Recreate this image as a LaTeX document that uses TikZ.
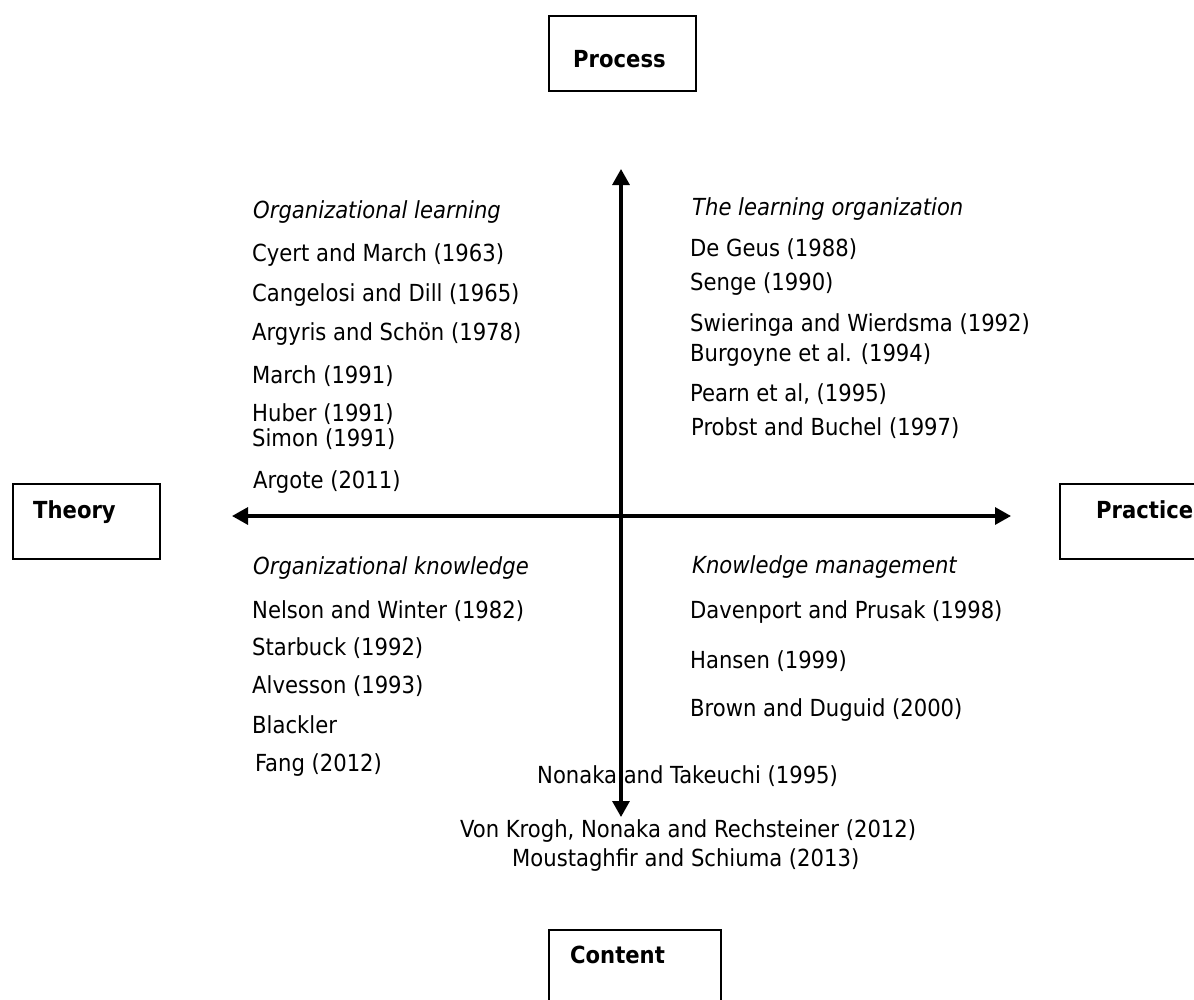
\documentclass[tikz,border=0pt]{standalone}
\usepackage{fontspec}
\setmainfont{DejaVu Sans Condensed}
\usetikzlibrary{arrows.meta,calc}
\definecolor{LineClr}{RGB}{0,0,0}
\definecolor{TextClr}{RGB}{0,0,0}

\tikzset{
  box/.style={draw=LineClr,line width=1.8pt,inner sep=0pt,anchor=north west},
  head/.style={font=\bfseries,text=TextClr,anchor=base west,inner sep=0pt},
  topic/.style={font=\itshape,text=TextClr,anchor=base west,inner sep=0pt},
  cite/.style={text=TextClr,anchor=base west,inner sep=0pt},
  axis/.style={draw=LineClr,line width=3.2pt,
    {Triangle[length=16pt,width=17pt]}-{Triangle[length=16pt,width=17pt]}}
}

\begin{document}
\begin{tikzpicture}[x=1pt,y=-1pt]
\fontsize{23.5pt}{28pt}\selectfont
\useasboundingbox (0,0) rectangle (1194,999);


\node[box,minimum width=147pt,minimum height=75pt] (procBox) at (548,15) {};
\node[box,minimum width=147pt,minimum height=75pt] (theoBox) at (12,483) {};
\node[box,minimum width=160pt,minimum height=75pt] (pracBox) at (1059,483) {};
\node[box,minimum width=172pt,minimum height=90pt] (contBox) at (548,929) {};

\node[head] (procLbl) at (573,67) {Process};
\node[head] (theoLbl) at (33,518) {Theory};
\node[head] (pracLbl) at (1096,518) {Practice};
\node[head] (contLbl) at (570,963) {Content};


\coordinate (theoEnd) at (232,516);
\coordinate (pracEnd) at (1011,516);
\coordinate (procEnd) at (621,169);
\coordinate (contEnd) at (621,817);

\draw[axis] (theoEnd) -- (pracEnd);
\draw[axis] (procEnd) -- (contEnd);


\node[topic] (orgLearn) at (253,218) {Organizational learning};
\node[cite] (cyert) at (252,261) {Cyert and March (1963)};
\node[cite] (cangelosi) at (252,301) {Cangelosi and Dill (1965)};
\node[cite] (argyris) at (252,340) {Argyris and Schön (1978)};
\node[cite] (march) at (252,383) {March (1991)};
\node[cite] (huber) at (252,421) {Huber (1991)};
\node[cite] (simon) at (252,446) {Simon (1991)};
\node[cite] (argote) at (253,488) {Argote (2011)};

\node[topic] (learnOrg) at (692,215) {The learning organization};
\node[cite] (degeus) at (690,256) {De Geus (1988)};
\node[cite] (senge) at (690,290) {Senge (1990)};
\node[cite] (swieringa) at (690,331) {Swieringa and Wierdsma (1992)};
\node[cite] (burgoyne) at (690,361) {Burgoyne et al. (1994)};
\node[cite] (pearn) at (690,401) {Pearn et al, (1995)};
\node[cite] (probst) at (691,435) {Probst and Buchel (1997)};

\node[topic] (orgKnow) at (253,574) {Organizational knowledge};
\node[cite] (nelson) at (252,618) {Nelson and Winter (1982)};
\node[cite] (starbuck) at (252,655) {Starbuck (1992)};
\node[cite] (alvesson) at (252,693) {Alvesson (1993)};
\node[cite] (blackler) at (252,733) {Blackler};
\node[cite] (fang) at (255,771) {Fang (2012)};

\node[topic] (knowMan) at (692,573) {Knowledge management};
\node[cite] (davenport) at (690,618) {Davenport and Prusak (1998)};
\node[cite] (hansen) at (690,668) {Hansen (1999)};
\node[cite] (brown) at (690,716) {Brown and Duguid (2000)};

\node[cite] (nonaka) at (537,783) {Nonaka and Takeuchi (1995)};
\node[cite] (vonkrogh) at (460,837) {Von Krogh, Nonaka and Rechsteiner (2012)};
\node[cite] (moustaghfir) at (512,866) {Moustaghfir and Schiuma (2013)};

\end{tikzpicture}
\end{document}
